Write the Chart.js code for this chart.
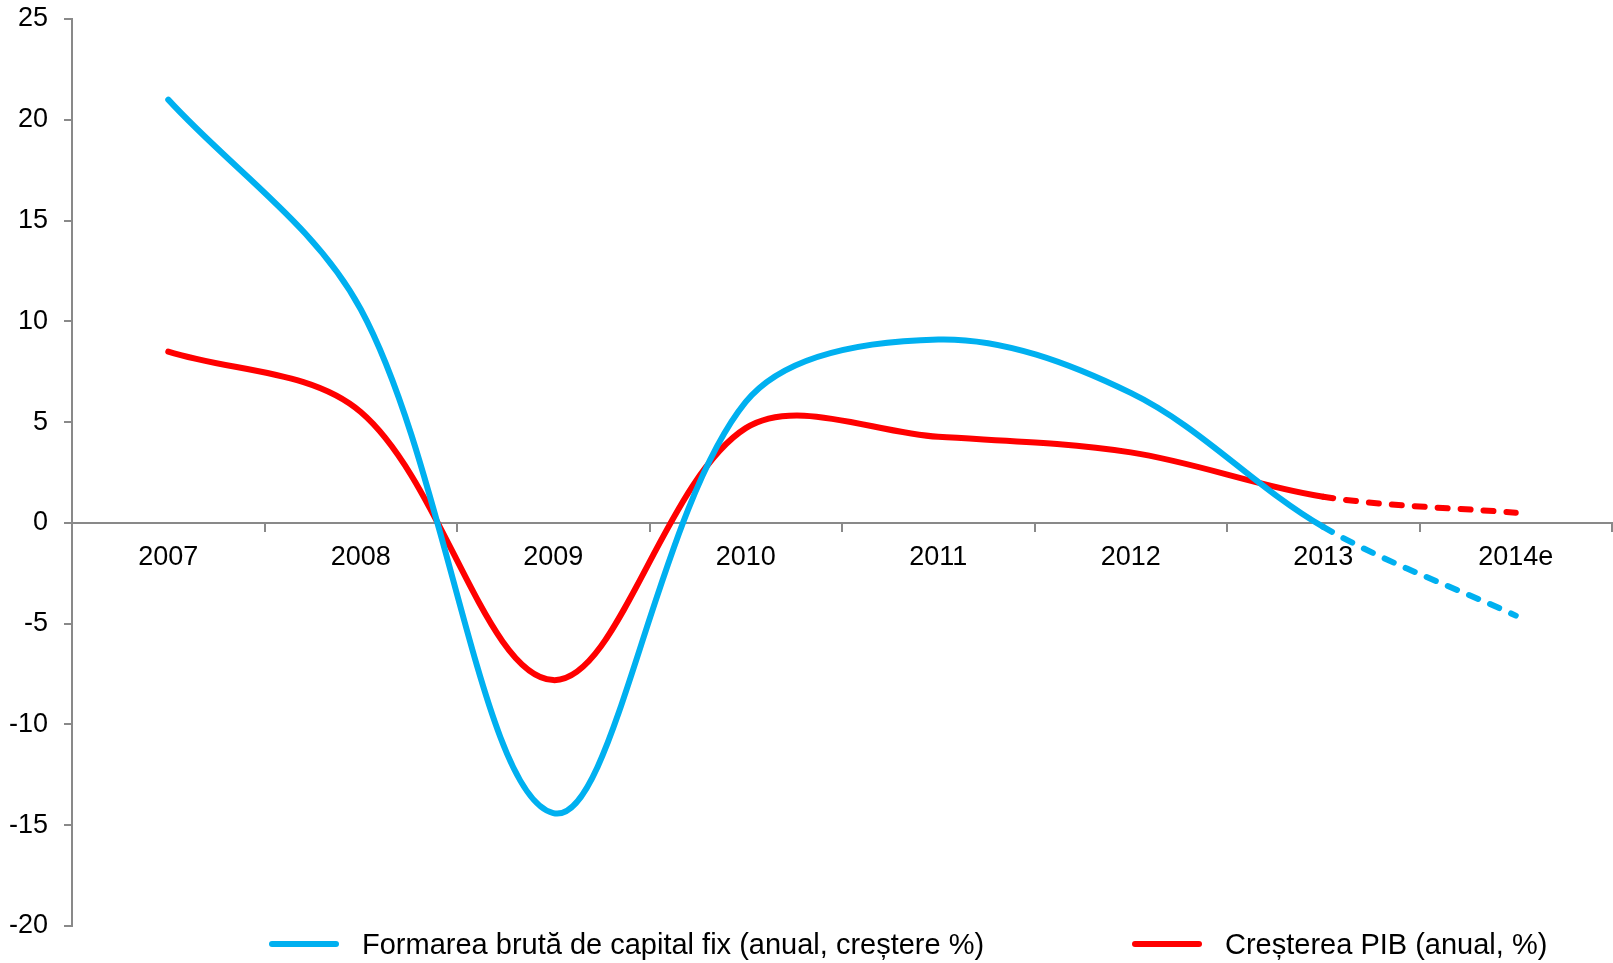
<!DOCTYPE html>
<html lang="ro">
<head>
<meta charset="utf-8">
<title>Formarea brută de capital fix vs Creșterea PIB</title>
<script src="https://cdn.jsdelivr.net/npm/chart.js@4.4.1/dist/chart.umd.min.js"></script>
<style>
  html, body { margin: 0; padding: 0; background: #fff; }
  #wrap { position: relative; width: 1613px; height: 963px; overflow: hidden; }
  #legend { position: absolute; left: 0; top: 926px; width: 100%; height: 37px;
            font-family: "Liberation Sans", Arial, sans-serif; font-size: 29px; color: #000; }
  .leg-item { position: absolute; top: 0; display: flex; align-items: center; height: 36px; white-space: nowrap; }
  .leg-line { width: 70px; height: 6px; border-radius: 3px; margin-right: 23px; }
</style>
</head>
<body>
<div id="wrap">
  <canvas id="chart"></canvas>
  <div id="legend"></div>
</div>
<script>
// date (%)
const years = ['2007', '2008', '2009', '2010', '2011', '2012', '2013', '2014e'];
const capitalFix = [21.0, 10.6, -14.4, 6.0, 9.1, 6.45, -0.2, -4.6];
const pibGrowth = [8.5, 5.5, -7.8, 4.7, 4.27, 3.5, 1.3, 0.5];
const yTicks = [-20, -15, -10, -5, 0, 5, 10, 15, 20, 25];

const seriesNames = ['Formarea brută de capital fix (anual, creștere %)', 'Creșterea PIB (anual, %)'];
const seriesColors = ['#00B0F0', '#FF0000'];
const legendLeft = [269, 1132];

const axisColor = '#898989';
const fontFamily = "'Liberation Sans', Arial, sans-serif";

// ultimul segment (2013 -> 2014e) e estimare, deci punctat
const estimateDash = ctx => ctx.p0DataIndex >= years.length - 2 ? [10, 13] : undefined;

function makeDataset(i, values) {
    return {
        label: seriesNames[i],
        data: values,
        borderColor: seriesColors[i],
        backgroundColor: seriesColors[i],
        borderWidth: 6,
        borderCapStyle: 'round',
        pointRadius: 0,
        pointHoverRadius: 0,
        tension: 0.34,
        fill: false,
        segment: { borderDash: estimateDash }
    };
}

const chart = new Chart(document.getElementById('chart'), {
    type: 'line',
    data: {
        labels: years,
        datasets: [makeDataset(0, capitalFix), makeDataset(1, pibGrowth)]
    },
    options: {
        responsive: true,
        maintainAspectRatio: false,
        animation: false,
        layout: { padding: { top: 19, left: 10, right: 1, bottom: 37 } },
        plugins: {
            legend: { display: false },
            tooltip: { enabled: false }
        },
        scales: {
            x: {
                position: { y: 0 },
                offset: true,
                grid: { offset: true, drawOnChartArea: false, drawTicks: true, tickLength: 8, color: axisColor, lineWidth: 2 },
                border: { color: axisColor, width: 2 },
                ticks: { color: '#000', font: { family: fontFamily, size: 27 }, padding: 10, maxRotation: 0, autoSkip: false }
            },
            y: {
                min: yTicks[0],
                max: yTicks[yTicks.length - 1],
                afterBuildTicks: scale => { scale.ticks = yTicks.map(v => ({ value: v })); },
                // latime fixa si fara spatiu suplimentar sus/jos pentru etichete
                afterFit: scale => {
                    scale.width = 62;
                    scale.paddingTop = 0;
                    scale.paddingBottom = 0;
                },
                grid: { drawOnChartArea: false, drawTicks: true, tickLength: 8, color: axisColor, lineWidth: 2 },
                border: { color: axisColor, width: 2 },
                ticks: { color: '#000', font: { family: fontFamily, size: 27 }, padding: 16 }
            }
        }
    }
});

// legenda in HTML, sub grafic
const legendEl = document.getElementById('legend');
chart.data.datasets.forEach((ds, i) => {
    const item = document.createElement('div');
    item.className = 'leg-item';
    item.style.left = legendLeft[i] + 'px';
    item.innerHTML = `<span class="leg-line" style="background:${ds.borderColor}"></span><span>${ds.label}</span>`;
    legendEl.appendChild(item);
});
</script>
</body>
</html>
